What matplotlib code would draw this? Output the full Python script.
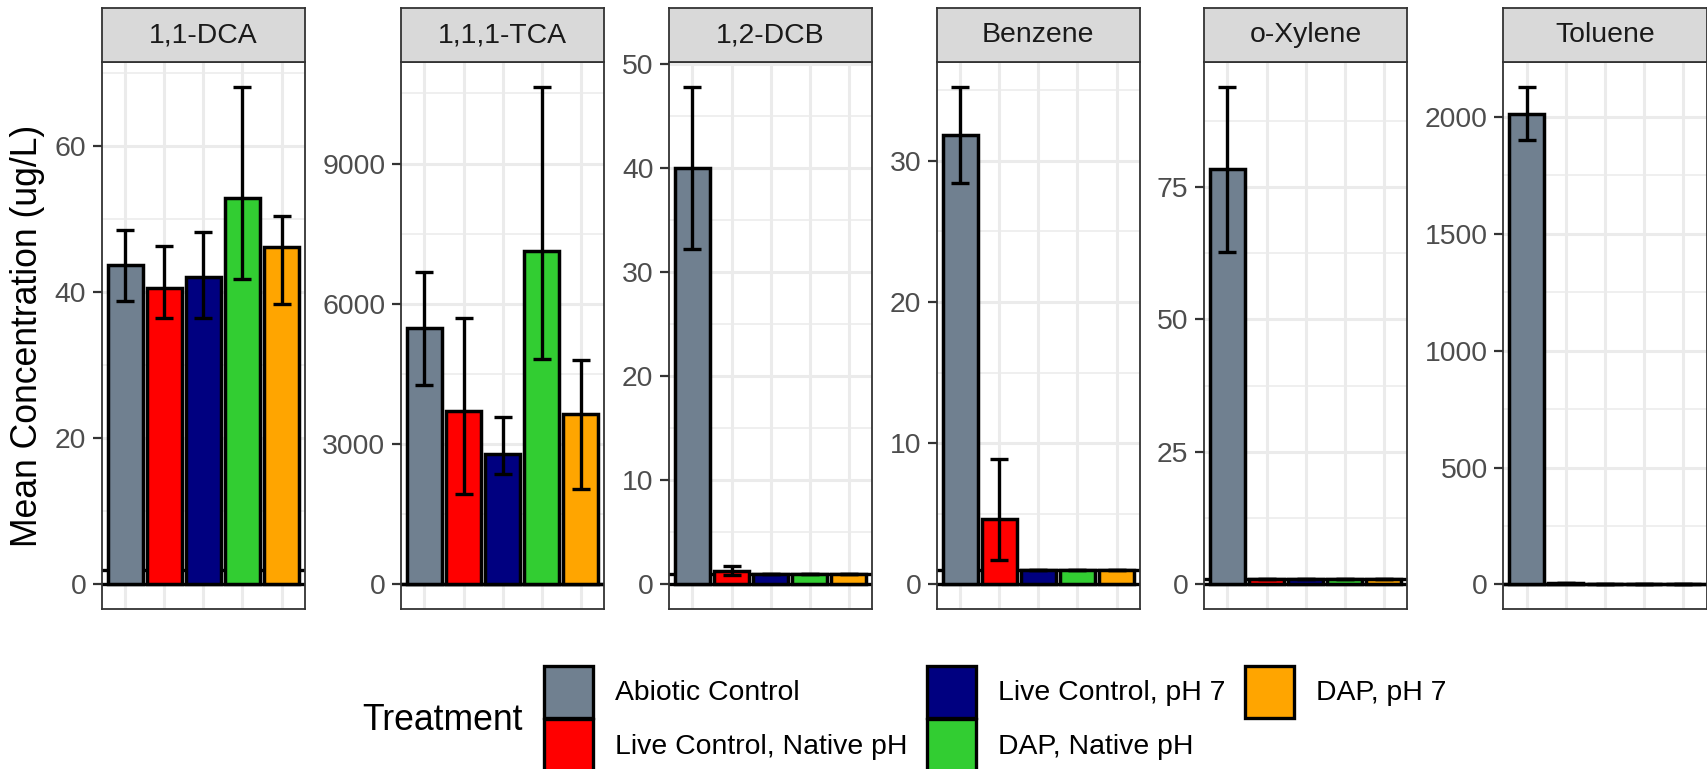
import matplotlib
matplotlib.use('Agg')
import matplotlib.pyplot as plt
import matplotlib.patches as mpatches
from matplotlib.ticker import MultipleLocator, FormatStrFormatter

plt.rcParams['font.family'] = ['Liberation Sans', 'DejaVu Sans']

compounds = ['1,1-DCA', '1,1,1-TCA', '1,2-DCB', 'Benzene', 'o-Xylene', 'Toluene']
treatments = ['Abiotic Control', 'Live Control, Native pH', 'Live Control, pH 7',
              'DAP, Native pH', 'DAP, pH 7']
colors = ['slategray', 'red', 'navy', 'limegreen', 'orange']

# mean concentration per treatment, with lower / upper error bar lengths
mean_dca = [43.7, 40.6, 42.0, 52.9, 46.1]
lo_dca = [4.9, 4.1, 5.5, 11.1, 7.8]
hi_dca = [4.8, 5.7, 6.2, 15.1, 4.3]

mean_tca = [5475, 3700, 2800, 7140, 3640]
lo_tca = [1219, 1762, 440, 2320, 1601]
hi_tca = [1216, 1988, 790, 3495, 1163]

mean_dcb = [40.0, 1.3, 1.0, 1.0, 1.0]
lo_dcb = [7.8, 0.35, 0, 0, 0]
hi_dcb = [7.8, 0.45, 0, 0, 0]

mean_benz = [31.8, 4.6, 1.0, 1.0, 1.0]
lo_benz = [3.4, 2.9, 0, 0, 0]
hi_benz = [3.4, 4.3, 0, 0, 0]

mean_xyl = [78.3, 1.0, 1.0, 1.0, 1.0]
lo_xyl = [15.5, 0, 0, 0, 0]
hi_xyl = [15.5, 0, 0, 0, 0]

mean_tol = [2015, 8, 2, 1, 1]
lo_tol = [111, 0, 0, 0, 0]
hi_tol = [113, 0, 0, 0, 0]

# reporting limit line drawn behind the bars
limits = [2, 2, 1, 1, 1, 1]
major_steps = [20, 3000, 10, 10, 25, 500]

means = [mean_dca, mean_tca, mean_dcb, mean_benz, mean_xyl, mean_tol]
lows = [lo_dca, lo_tca, lo_dcb, lo_benz, lo_xyl, lo_tol]
highs = [hi_dca, hi_tca, hi_dcb, hi_benz, hi_xyl, hi_tol]

W, H = 1707, 769
fig = plt.figure(figsize=(W / 100, H / 100), dpi=100)

panel_left = [101.7, 401, 669, 936.7, 1204, 1503.3]
panel_w = 203.3
panel_top, panel_bot, strip_top = 62.3, 609.3, 8

small = 20.4
big = 25.6
x = [1, 2, 3, 4, 5]

for i, name in enumerate(compounds):
    ax = fig.add_axes([panel_left[i] / W, 1 - panel_bot / H,
                       panel_w / W, (panel_bot - panel_top) / H])
    m, lo, hi = means[i], lows[i], highs[i]
    top = max(a + b for a, b in zip(m, hi))

    ax.axhline(limits[i], color='black', lw=2.4, zorder=1.5)
    ax.axhline(0, color='black', lw=2.4, zorder=1.5)
    ax.bar(x, m, width=0.9, color=colors, edgecolor='black', linewidth=2.5, zorder=2)
    ax.errorbar(x, m, yerr=[lo, hi], fmt='none', ecolor='black', elinewidth=2.4,
                capsize=6.8, capthick=2.4, zorder=3)

    ax.set_xlim(0.4, 5.6)
    ax.set_ylim(-0.05 * top, 1.05 * top)
    ax.set_xticks(x)
    ax.yaxis.set_major_locator(MultipleLocator(major_steps[i]))
    ax.yaxis.set_minor_locator(MultipleLocator(major_steps[i] / 2))
    ax.yaxis.set_major_formatter(FormatStrFormatter('%d'))
    ax.set_axisbelow(True)
    ax.grid(which='major', color='#EBEBEB', lw=2.2)
    ax.grid(which='minor', axis='y', color='#EBEBEB', lw=1.1)
    ax.tick_params(axis='x', length=0, labelbottom=False)
    ax.tick_params(axis='y', which='major', length=6.2, width=1.6, color='#333333',
                   labelcolor='#4D4D4D', labelsize=small, pad=5)
    ax.tick_params(axis='y', which='minor', length=0)
    for sp in ax.spines.values():
        sp.set_color('#333333')
        sp.set_linewidth(1.3)

    # facet strip
    sax = fig.add_axes([panel_left[i] / W, 1 - panel_top / H,
                        panel_w / W, (panel_top - strip_top) / H])
    sax.set_facecolor('#D9D9D9')
    sax.set_xticks([])
    sax.set_yticks([])
    for sp in sax.spines.values():
        sp.set_color('#333333')
        sp.set_linewidth(1.3)
    sax.text(0.5, 0.5, name, ha='center', va='center', fontsize=small,
             color='#1A1A1A', transform=sax.transAxes)

fig.text(28 / W, 1 - (panel_top + panel_bot) / 2 / H, 'Mean Concentration (ug/L)',
         rotation=90, ha='center', va='center', fontsize=big)

handles = [mpatches.Patch(facecolor=c, edgecolor='black', linewidth=2.4) for c in colors]
fig.legend(handles, treatments, ncol=3, loc='upper left',
           bbox_to_anchor=(544 / W, 1 - 666 / H), frameon=False, fontsize=small,
           borderpad=0, borderaxespad=0, handlelength=1.72, handleheight=2.42,
           handletextpad=0.78, labelspacing=0.07, columnspacing=0.7)
fig.text(362.5 / W, 1 - 720 / H, 'Treatment', ha='left', va='center', fontsize=big)

fig.savefig('out.png', dpi=100)
